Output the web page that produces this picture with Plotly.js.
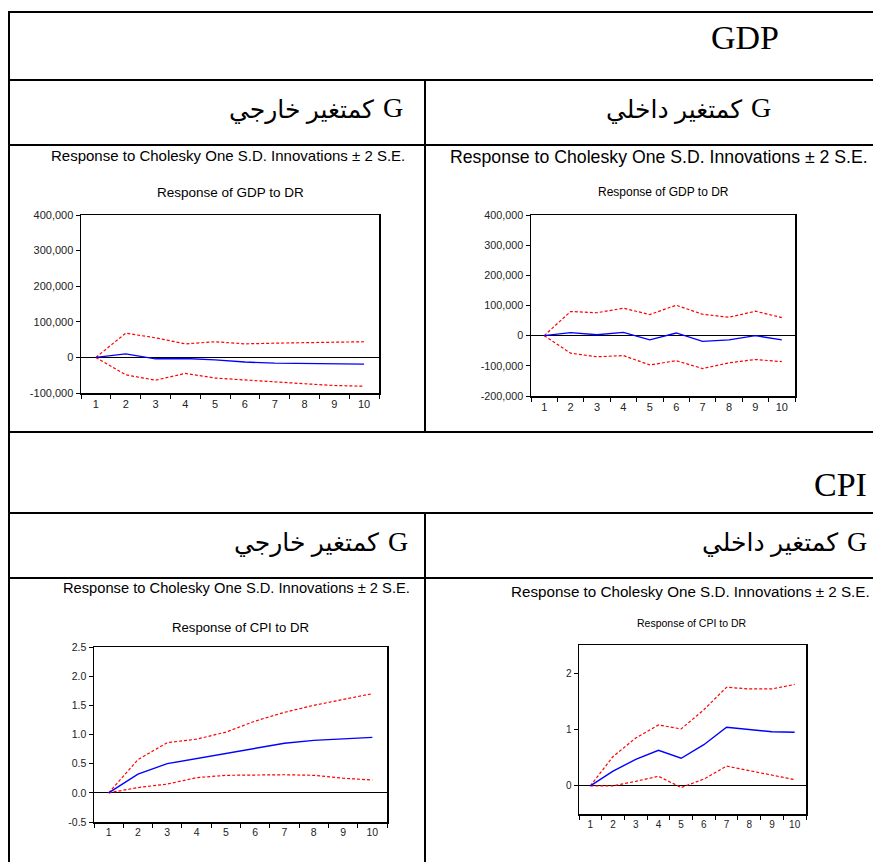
<!DOCTYPE html>
<html>
<head>
<meta charset="utf-8">
<script src="https://cdn.plot.ly/plotly-3.0.1.min.js"></script>
<style>
  html, body { margin: 0; padding: 0; background: #ffffff; }
  #chart { width: 873px; height: 862px; }
</style>
</head>
<body>
<div id="chart"></div>
<script>
// Impulse-response horizons (periods)
const horizons = ['1', '2', '3', '4', '5', '6', '7', '8', '9', '10'];

// Response of GDP to DR — G as exogenous variable
const gdpExtResponse = [0, 10000, -4000, -3000, -7000, -13000, -16000, -17000, -18000, -19000];
const gdpExtUpper    = [0, 68000, 55000, 38000, 44000, 38000, 40000, 42000, 43000, 44000];
const gdpExtLower    = [0, -49000, -64000, -45000, -58000, -64000, -70000, -74000, -79000, -81000];

// Response of GDP to DR — G as endogenous variable
const gdpIntResponse = [0, 10000, 3000, 11000, -14000, 9000, -19000, -14000, 0, -14000];
const gdpIntUpper    = [0, 80000, 76000, 91000, 70000, 101000, 71000, 61000, 81000, 60000];
const gdpIntLower    = [0, -58000, -70000, -66000, -97000, -83000, -109000, -90000, -79000, -86000];

// Response of CPI to DR — G as exogenous variable
const cpiExtResponse = [0, 0.32, 0.50, 0.59, 0.67, 0.77, 0.85, 0.90, 0.93, 0.95];
const cpiExtUpper    = [0, 0.57, 0.86, 0.92, 1.04, 1.23, 1.38, 1.50, 1.60, 1.70];
const cpiExtLower    = [0, 0.09, 0.15, 0.26, 0.30, 0.31, 0.31, 0.30, 0.25, 0.22];

// Response of CPI to DR — G as endogenous variable
const cpiIntResponse = [0, 0.26, 0.47, 0.63, 0.49, 0.73, 1.04, 1.00, 0.96, 0.95];
const cpiIntUpper    = [0, 0.52, 0.85, 1.08, 1.01, 1.35, 1.75, 1.72, 1.72, 1.80];
const cpiIntLower    = [0, 0.00, 0.08, 0.17, -0.03, 0.12, 0.35, 0.27, 0.18, 0.11];

// Y-axis tick values and labels
const gdpExtTickVals = [-100000, 0, 100000, 200000, 300000, 400000];
const gdpExtTickText = ['-100,000', '0', '100,000', '200,000', '300,000', '400,000'];
const gdpIntTickVals = [-200000, -100000, 0, 100000, 200000, 300000, 400000];
const gdpIntTickText = ['-200,000', '-100,000', '0', '100,000', '200,000', '300,000', '400,000'];
const cpiExtTickVals = [-0.5, 0, 0.5, 1, 1.5, 2, 2.5];
const cpiExtTickText = ['-0.5', '0.0', '0.5', '1.0', '1.5', '2.0', '2.5'];
const cpiIntTickVals = [0, 1, 2];
const cpiIntTickText = ['0', '1', '2'];

// Text
const superTitle = 'Response to Cholesky One S.D. Innovations \u00b1 2 S.E.';
const gdpSubTitle = 'Response of GDP to DR';
const cpiSubTitle = 'Response of CPI to DR';
const rowGDP = 'GDP';
const rowCPI = 'CPI';
const varG = 'G';
const asEndogenous = 'كمتغير داخلي';
const asExogenous = 'كمتغير خارجي';

// Page geometry helpers (pixel -> paper fraction)
const W = 873, H = 862;
const px = v => v / W;
const py = v => 1 - v / H;

const SANS = 'Liberation Sans, Arial, sans-serif';
const SERIF = 'Liberation Serif, Times New Roman, DejaVu Sans, serif';

const bandStyle = { color: '#ff0000', width: 1.2, dash: '3px,2px' };
const respStyle = { color: '#0000ff', width: 1.4 };

function panel(idx, upper, lower, resp) {
  const xa = idx === 1 ? 'x' : 'x' + idx;
  const ya = idx === 1 ? 'y' : 'y' + idx;
  return [
    { x: horizons, y: upper, xaxis: xa, yaxis: ya, mode: 'lines', line: bandStyle, hoverinfo: 'skip' },
    { x: horizons, y: lower, xaxis: xa, yaxis: ya, mode: 'lines', line: bandStyle, hoverinfo: 'skip' },
    { x: horizons, y: resp, xaxis: xa, yaxis: ya, mode: 'lines', line: respStyle, hoverinfo: 'skip' }
  ];
}

const data = [].concat(
  panel(1, gdpExtUpper, gdpExtLower, gdpExtResponse),
  panel(2, gdpIntUpper, gdpIntLower, gdpIntResponse),
  panel(3, cpiExtUpper, cpiExtLower, cpiExtResponse),
  panel(4, cpiIntUpper, cpiIntLower, cpiIntResponse)
);

function xAxis(x0, x1, fontSize, anchor) {
  return {
    domain: [px(x0), px(x1)], anchor: anchor,
    type: 'category', range: [-0.5, 9.5], tickson: 'boundaries',
    ticks: 'outside', ticklen: 4, tickwidth: 1, tickcolor: '#000',
    showline: true, mirror: true, linecolor: '#000', linewidth: 1.5,
    showgrid: false, zeroline: false, fixedrange: true,
    tickfont: { family: SANS, size: fontSize, color: '#222' }
  };
}

function yAxis(y0, y1, range, vals, text, fontSize, anchor) {
  return {
    domain: [py(y1), py(y0)], anchor: anchor,
    range: range, tickmode: 'array', tickvals: vals, ticktext: text,
    ticks: 'outside', ticklen: 4, tickwidth: 1, tickcolor: '#000',
    showline: true, mirror: true, linecolor: '#000', linewidth: 1.5,
    showgrid: false, zeroline: true, zerolinecolor: '#000', zerolinewidth: 1,
    fixedrange: true,
    tickfont: { family: SANS, size: fontSize, color: '#222' }
  };
}

// Table rules
const rule = (x0, y0, x1, y1) => ({
  type: 'line', xref: 'paper', yref: 'paper',
  x0: px(x0), y0: py(y0), x1: px(x1), y1: py(y1),
  line: { color: '#000', width: 2 }, layer: 'above'
});
const shapes = [
  rule(8, 12, 873, 12),
  rule(9, 12, 9, 862),
  rule(8, 80, 873, 80),
  rule(8, 145, 873, 145),
  rule(8, 432, 873, 432),
  rule(8, 513, 873, 513),
  rule(8, 578, 873, 578),
  rule(425, 80, 425, 432),
  rule(425, 513, 425, 862)
];

const label = (text, x, y, xanchor, family, size) => ({
  text: text, xref: 'paper', yref: 'paper', x: px(x), y: py(y),
  xanchor: xanchor, yanchor: 'middle', showarrow: false,
  font: { family: family, size: size, color: '#000' }
});

// Column header: "G" followed (to its left) by the Arabic phrase
const colHeader = (phrase, right, y) => [
  label(varG, right, y, 'right', SERIF, 28),
  label(phrase, right - 29, y + 2, 'right', SERIF, 25)
];

const annotations = [
  label(rowGDP, 781, 38, 'right', SERIF, 34),
  label(rowCPI, 869, 484, 'right', SERIF, 34),
  ...colHeader(asEndogenous, 773, 108),
  ...colHeader(asExogenous, 405, 108),
  ...colHeader(asEndogenous, 869, 541),
  ...colHeader(asExogenous, 410, 541),

  label(superTitle, 228, 155, 'center', SANS, 15),
  label(gdpSubTitle, 230, 193, 'center', SANS, 13.5),
  label(superTitle, 659, 157, 'center', SANS, 17.7),
  label(gdpSubTitle, 663, 192, 'center', SANS, 12),
  label(superTitle, 237, 588, 'center', SANS, 14.7),
  label(cpiSubTitle, 240, 627, 'center', SANS, 13.2),
  label(superTitle, 690, 591, 'center', SANS, 15.2),
  label(cpiSubTitle, 692, 623, 'center', SANS, 10.5)
];

const layout = {
  width: W, height: H,
  margin: { l: 0, r: 0, t: 0, b: 0 },
  paper_bgcolor: '#ffffff', plot_bgcolor: '#ffffff',
  showlegend: false,
  xaxis:  xAxis(81, 379, 11, 'y'),
  yaxis:  yAxis(215, 393, [-100000, 400000], gdpExtTickVals, gdpExtTickText, 11, 'x'),
  xaxis2: xAxis(531, 795, 11, 'y2'),
  yaxis2: yAxis(215, 396, [-200000, 400000], gdpIntTickVals, gdpIntTickText, 10.8, 'x2'),
  xaxis3: xAxis(94, 387, 10.5, 'y3'),
  yaxis3: yAxis(647, 822, [-0.5, 2.5], cpiExtTickVals, cpiExtTickText, 10.5, 'x3'),
  xaxis4: xAxis(579, 806, 10, 'y4'),
  yaxis4: yAxis(645, 814, [-0.5, 2.5], cpiIntTickVals, cpiIntTickText, 10, 'x4'),
  shapes: shapes,
  annotations: annotations
};

Plotly.newPlot('chart', data, layout, { staticPlot: true, displayModeBar: false });
</script>
</body>
</html>
